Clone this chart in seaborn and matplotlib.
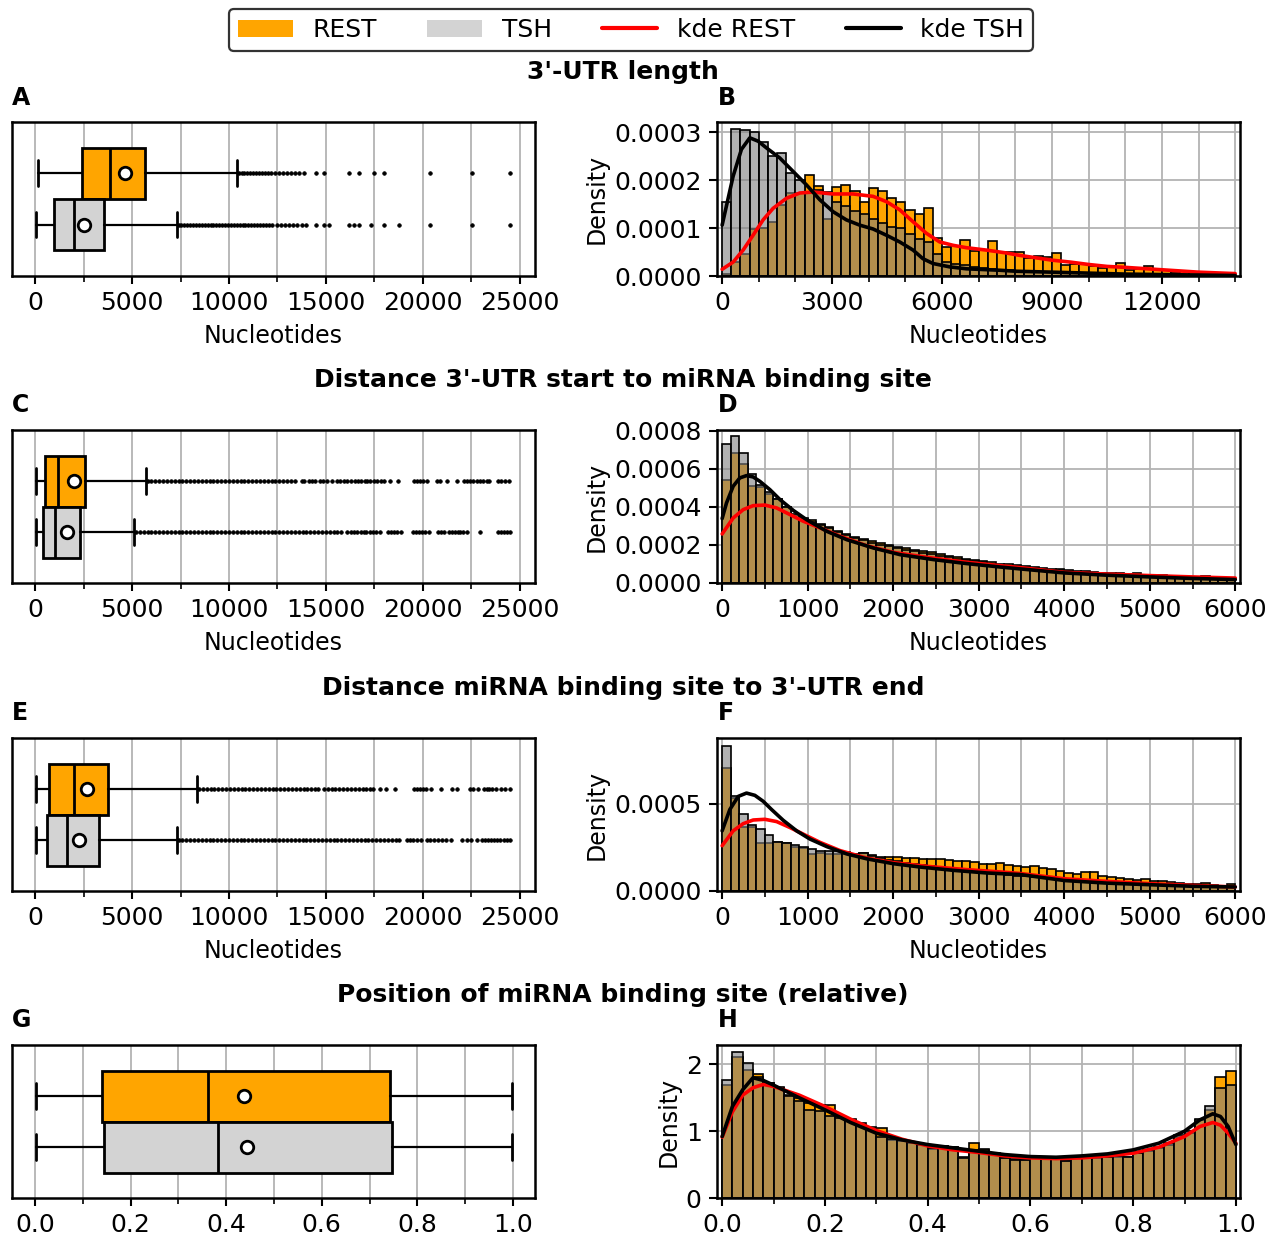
import numpy as np
import pandas as pd
import matplotlib
matplotlib.use("Agg")
import matplotlib.pyplot as plt
import seaborn as sns
from matplotlib.ticker import MultipleLocator, FormatStrFormatter
from matplotlib.patches import Patch
from matplotlib.lines import Line2D

sns.set_style("ticks")
plt.rcParams['font.family'] = ['DejaVu Sans']
plt.rcParams['text.color'] = 'black'
plt.rcParams['axes.labelcolor'] = 'black'
plt.rcParams['xtick.color'] = 'black'
plt.rcParams['ytick.color'] = 'black'

# ---------------- DATA ----------------
GROUPS = ["REST", "TSH"]

# Box statistics: whislo, q1, median, q3, whishi, mean
A_REST_BOX = [150, 2420, 3875, 5660, 10430, 4630]
A_TSH_BOX = [40, 955, 1985, 3525, 7310, 2500]
C_REST_BOX = [20, 480, 1190, 2590, 5710, 2020]
C_TSH_BOX = [20, 400, 1010, 2330, 5100, 1650]
E_REST_BOX = [20, 700, 1985, 3765, 8375, 2680]
E_TSH_BOX = [20, 590, 1655, 3310, 7330, 2260]
G_REST_BOX = [0.002, 0.141, 0.361, 0.742, 0.998, 0.437]
G_TSH_BOX = [0.002, 0.145, 0.383, 0.746, 0.998, 0.443]

A_REST_FLIERS = [10500, 10650, 10800, 10950, 11100, 11250, 11400, 11550, 11700, 11850, 12000, 12150,
                 12400, 12600, 12800, 13000, 13200, 13400, 13600, 13850, 14500, 14900, 16200, 16700,
                 17500, 18000, 20400, 22550, 24500]
A_TSH_FLIERS = [7400, 7550, 7700, 7850, 8000, 8150, 8300, 8450, 8600, 8750, 8900, 9050, 9200, 9350,
                9500, 9650, 9800, 9950, 10100, 10250, 10400, 10550, 10700, 10850, 11000, 11150, 11300,
                11450, 11600, 11750, 11900, 12050, 12200, 12500, 12700, 12900, 13100, 13300, 13500,
                13750, 14000, 14500, 14900, 15150, 16200, 16450, 16700, 17350, 18000, 18800, 20400,
                22550, 24500]
C_REST_FLIERS = [5800, 6000, 6200, 6400, 6600, 6800, 7000, 7200, 7400, 7600, 7800, 8000, 8200, 8400,
                 8600, 8800, 9000, 9200, 9400, 9600, 9800, 10000, 10200, 10400, 10600, 10800, 11000,
                 11200, 11400, 11600, 11800, 12000, 12200, 12400, 12600, 12800, 13000, 13200, 13400,
                 13750, 13900, 14150, 14300, 14450, 14700, 14850, 15050, 15300, 15600, 15750, 15950,
                 16100, 16300, 16500, 16650, 16800, 17000, 17150, 17300, 17500, 17650, 17850, 18000,
                 18300, 18750, 19550, 19700, 19850, 20000, 20250, 20750, 20900, 21250, 21750, 22150,
                 22300, 22450, 22600, 22800, 22950, 23100, 23300, 23400, 23900, 24050, 24250, 24450]
C_TSH_FLIERS = [5200, 5400, 5600, 5800, 6000, 6200, 6400, 6600, 6800, 7000, 7200, 7400, 7600, 7800,
                8000, 8200, 8400, 8600, 8800, 9000, 9200, 9400, 9600, 9800, 10000, 10200, 10400,
                10600, 10800, 11000, 11200, 11400, 11600, 11800, 12000, 12200, 12400, 12600, 12800,
                13000, 13200, 13400, 13600, 13800, 14000, 14200, 14400, 14600, 14800, 15000, 15200,
                15400, 15600, 15800, 16100, 16300, 16450, 16600, 16800, 16950, 17100, 17300, 17450,
                17600, 17800, 18200, 18350, 18500, 18700, 18900, 19500, 19650, 19800, 19950, 20100,
                20350, 20800, 20950, 21100, 21350, 21500, 21650, 21800, 21950, 22100, 22300, 22950,
                23900, 24050, 24200, 24350, 24500]
E_REST_FLIERS = [8450, 8650, 8850, 9050, 9250, 9450, 9650, 9850, 10050, 10250, 10450, 10650, 10850,
                 11050, 11250, 11450, 11650, 11850, 12050, 12250, 12450, 12650, 12850, 13050, 13250,
                 13450, 13650, 13850, 14050, 14250, 14450, 14600, 14900, 15100, 15300, 15500, 15700,
                 15900, 16100, 16300, 16500, 16700, 16900, 17100, 17300, 17450, 17800, 18100, 18550,
                 19550, 19700, 19850, 20000, 20150, 20450, 20950, 21500, 21750, 22450, 22600, 22850,
                 23150, 23300, 23450, 23600, 23800, 24050, 24250, 24500]
E_TSH_FLIERS = [7400, 7600, 7800, 8000, 8200, 8400, 8600, 8800, 9000, 9200, 9400, 9600, 9800, 10000,
                10200, 10400, 10600, 10800, 11000, 11200, 11400, 11600, 11800, 12000, 12200, 12400,
                12600, 12800, 13000, 13200, 13400, 13600, 13800, 14000, 14200, 14400, 14600, 14800,
                15000, 15200, 15400, 15600, 15800, 16000, 16200, 16400, 16600, 16800, 17000, 17200,
                17400, 17600, 17800, 18000, 18200, 18400, 18600, 18800, 19200, 19350, 19500, 19700,
                19900, 20200, 20400, 20600, 20800, 21000, 21200, 21450, 22050, 22300, 22500, 22800,
                23050, 23200, 23350, 23550, 23700, 23850, 24000, 24200, 24350, 24500]
G_REST_FLIERS = []
G_TSH_FLIERS = []

# Histograms (density), bins start at 0
B_BIN = 250
B_REST = [0.05, 0.30, 0.45, 0.98, 1.00, 1.13, 1.48, 1.72, 1.74, 2.10, 1.88, 1.19, 1.85, 1.90, 1.78,
          1.55, 1.84, 1.78, 1.62, 1.55, 1.38, 1.30, 1.42, 0.80, 0.60, 0.62, 0.75, 0.52, 0.55, 0.72,
          0.50, 0.50, 0.50, 0.38, 0.42, 0.40, 0.47, 0.22, 0.26, 0.25, 0.20, 0.16, 0.18, 0.27, 0.12,
          0.15, 0.20, 0.15, 0.12, 0.09, 0.10, 0.08, 0.06, 0.07, 0.05, 0.04]
B_TSH = [1.55, 3.07, 3.05, 3.00, 2.80, 2.50, 2.57, 2.15, 2.00, 1.75, 1.80, 1.75, 1.55, 1.45, 1.35,
         1.30, 1.18, 1.10, 1.03, 1.00, 0.88, 0.78, 0.70, 0.45, 0.30, 0.25, 0.22, 0.18, 0.16, 0.15,
         0.13, 0.12, 0.11, 0.10, 0.09, 0.09, 0.08, 0.07, 0.06, 0.06, 0.05, 0.05, 0.04, 0.04, 0.04,
         0.03, 0.03, 0.03, 0.03, 0.02, 0.02, 0.02, 0.02, 0.02, 0.01, 0.01]
B_SCALE = 1e-4

D_BIN = 100
D_REST = [5.44, 6.84, 6.26, 5.10, 5.05, 4.70, 4.40, 4.00, 3.60, 3.40, 3.30, 3.10, 2.95, 2.75, 2.60,
          2.42, 2.30, 2.20, 2.10, 2.02, 1.92, 1.85, 1.75, 1.68, 1.62, 1.50, 1.42, 1.35, 1.28, 1.22,
          1.18, 1.08, 1.02, 0.98, 0.93, 0.88, 0.84, 0.80, 0.76, 0.73, 0.68, 0.64, 0.61, 0.58, 0.55,
          0.52, 0.50, 0.48, 0.50, 0.44, 0.42, 0.40, 0.38, 0.36, 0.34, 0.33, 0.36, 0.30, 0.28, 0.26]
D_TSH = [7.33, 7.72, 6.86, 5.75, 5.14, 4.80, 4.42, 4.00, 3.65, 3.38, 3.22, 3.05, 2.88, 2.70, 2.50,
         2.38, 2.25, 2.12, 2.02, 1.93, 1.85, 1.75, 1.66, 1.58, 1.50, 1.42, 1.35, 1.28, 1.22, 1.15,
         1.08, 1.02, 0.97, 0.92, 0.88, 0.83, 0.79, 0.75, 0.71, 0.68, 0.64, 0.60, 0.57, 0.54, 0.51,
         0.48, 0.46, 0.43, 0.41, 0.39, 0.37, 0.35, 0.33, 0.31, 0.29, 0.27, 0.25, 0.24, 0.22, 0.21]
D_SCALE = 1e-4

F_BIN = 100
F_REST = [7.01, 5.30, 3.67, 3.67, 2.73, 2.73, 2.78, 2.73, 2.50, 2.45, 2.09, 2.15, 2.10, 2.12, 2.10,
          2.05, 2.20, 2.05, 1.95, 1.92, 1.93, 1.89, 1.87, 1.85, 1.81, 1.83, 1.78, 1.74, 1.70, 1.67,
          1.55, 1.52, 1.60, 1.46, 1.42, 1.36, 1.44, 1.30, 1.27, 1.17, 1.02, 1.00, 1.08, 1.10, 0.83,
          0.80, 0.76, 0.70, 0.64, 0.66, 0.57, 0.55, 0.51, 0.47, 0.42, 0.38, 0.45, 0.36, 0.30, 0.42]
F_TSH = [8.27, 5.41, 4.38, 3.76, 3.53, 3.20, 2.78, 2.73, 2.63, 2.54, 2.40, 2.27, 2.30, 2.27, 2.22,
         2.12, 2.16, 2.00, 1.88, 1.80, 1.70, 1.62, 1.55, 1.48, 1.42, 1.36, 1.30, 1.24, 1.18, 1.12,
         1.06, 1.01, 0.96, 0.91, 0.87, 0.83, 0.79, 0.75, 0.71, 0.68, 0.65, 0.62, 0.59, 0.56, 0.53,
         0.50, 0.48, 0.46, 0.44, 0.42, 0.40, 0.38, 0.36, 0.34, 0.32, 0.31, 0.30, 0.28, 0.27, 0.26]
F_SCALE = 1e-4

H_BIN = 0.02
H_REST = [1.69, 2.11, 1.92, 1.85, 1.72, 1.66, 1.54, 1.50, 1.42, 1.39, 1.39, 1.23, 1.18, 1.12, 1.06,
          1.05, 0.87, 0.86, 0.82, 0.80, 0.73, 0.78, 0.77, 0.62, 0.83, 0.73, 0.67, 0.60, 0.58, 0.57,
          0.61, 0.60, 0.60, 0.56, 0.60, 0.62, 0.60, 0.63, 0.62, 0.62, 0.67, 0.71, 0.75, 0.80, 0.92,
          0.98, 1.17, 1.32, 1.81, 1.90]
H_TSH = [1.77, 2.18, 2.02, 1.81, 1.72, 1.64, 1.52, 1.45, 1.32, 1.30, 1.22, 1.20, 1.16, 1.10, 1.04,
         0.92, 0.88, 0.87, 0.84, 0.81, 0.75, 0.78, 0.76, 0.60, 0.72, 0.72, 0.66, 0.60, 0.57, 0.57,
         0.60, 0.59, 0.60, 0.55, 0.60, 0.63, 0.61, 0.62, 0.63, 0.62, 0.68, 0.72, 0.76, 0.82, 0.94,
         1.00, 1.18, 1.37, 1.65, 1.69]
H_SCALE = 1.0

# KDE curves (x, density)
B_KDE_X_TSH = [0, 300, 527, 755, 982, 1210, 1573, 1936, 2300, 2664, 3027, 3390, 3755, 4118, 4482,
               4845, 5210, 5480, 5755, 6210, 6664, 7573, 8000, 9000, 10000, 11000, 12000, 13000, 14000]
B_KDE_Y_TSH = [1.06, 2.08, 2.64, 2.88, 2.81, 2.67, 2.46, 2.18, 1.90, 1.59, 1.34, 1.17, 1.06, 0.98,
               0.85, 0.71, 0.54, 0.36, 0.26, 0.19, 0.15, 0.12, 0.10, 0.08, 0.06, 0.04, 0.03, 0.02, 0.01]
B_KDE_X_REST = [0, 300, 573, 845, 1118, 1390, 1755, 2118, 2482, 3027, 3573, 4118, 4482, 4845, 5210,
                5573, 5936, 6300, 6664, 7209, 7755, 8118, 9000, 9500, 10000, 10500, 11000, 12000,
                13000, 14000]
B_KDE_Y_REST = [0.14, 0.29, 0.54, 0.85, 1.17, 1.41, 1.62, 1.73, 1.75, 1.71, 1.71, 1.66, 1.55, 1.38,
                1.13, 0.89, 0.71, 0.64, 0.59, 0.54, 0.48, 0.43, 0.33, 0.29, 0.24, 0.20, 0.18, 0.13,
                0.08, 0.05]

D_KDE_X_TSH = [0, 51, 129, 207, 285, 363, 441, 559, 676, 832, 988, 1223, 1457, 1770, 2082, 2473,
               2863, 3254, 3488, 4000, 4500, 5000, 5500, 6000]
D_KDE_Y_TSH = [3.39, 4.21, 5.09, 5.53, 5.65, 5.58, 5.35, 4.91, 4.39, 3.82, 3.33, 2.72, 2.28, 1.84,
               1.49, 1.23, 1.02, 0.84, 0.74, 0.53, 0.41, 0.32, 0.24, 0.18]
D_KDE_X_REST = [0, 129, 246, 363, 500, 637, 793, 949, 1145, 1379, 1691, 2004, 2395, 2863, 3254,
                3488, 4000, 4500, 5000, 5500, 6000]
D_KDE_Y_REST = [2.58, 3.42, 3.86, 4.07, 4.10, 3.95, 3.60, 3.25, 2.90, 2.46, 1.96, 1.61, 1.35, 1.09,
                0.91, 0.81, 0.56, 0.47, 0.39, 0.32, 0.26]

F_KDE_X_TSH = [0, 90, 188, 285, 383, 480, 578, 715, 871, 1027, 1223, 1457, 1691, 2004, 2316, 2707,
               3098, 3488, 4000, 4500, 5000, 5500, 6000]
F_KDE_Y_TSH = [3.44, 4.66, 5.41, 5.60, 5.47, 5.13, 4.66, 4.04, 3.44, 2.97, 2.54, 2.12, 1.84, 1.56,
               1.37, 1.18, 1.03, 0.94, 0.60, 0.45, 0.36, 0.27, 0.23]
F_KDE_X_REST = [0, 129, 246, 363, 500, 637, 793, 949, 1145, 1379, 1691, 2004, 2395, 2863, 3254,
                3488, 4000, 4500, 5000, 5500, 6000]
F_KDE_Y_REST = [2.59, 3.44, 3.85, 4.06, 4.10, 3.97, 3.63, 3.25, 2.78, 2.31, 1.88, 1.62, 1.41, 1.22,
                1.09, 1.00, 0.70, 0.55, 0.42, 0.32, 0.23]

H_KDE_X = [0, 0.02, 0.04, 0.06, 0.08, 0.10, 0.15, 0.20, 0.25, 0.30, 0.35, 0.40, 0.45, 0.50, 0.55,
           0.60, 0.65, 0.70, 0.75, 0.80, 0.85, 0.90, 0.93, 0.955, 0.97, 0.985, 1.0]
H_KDE_Y_TSH = [0.92, 1.37, 1.62, 1.80, 1.76, 1.69, 1.50, 1.32, 1.13, 0.97, 0.87, 0.80, 0.75, 0.70,
               0.65, 0.62, 0.61, 0.63, 0.66, 0.72, 0.82, 1.00, 1.17, 1.26, 1.22, 1.07, 0.80]
H_KDE_Y_REST = [0.91, 1.29, 1.54, 1.65, 1.70, 1.67, 1.54, 1.37, 1.18, 1.01, 0.88, 0.78, 0.72, 0.68,
                0.63, 0.60, 0.59, 0.60, 0.63, 0.67, 0.76, 0.92, 1.07, 1.13, 1.09, 0.97, 0.82]

ROW_TITLES = ["3'-UTR length", "Distance 3'-UTR start to miRNA binding site",
              "Distance miRNA binding site to 3'-UTR end", "Position of miRNA binding site (relative)"]
PANEL_LETTERS = ["A", "B", "C", "D", "E", "F", "G", "H"]

# ---------------- STYLE ----------------
REST_C = "orange"
TSH_BOX_C = "lightgray"
TSH_HIST_C = "grey"
GRID_C = "#b3b3b3"
TICK_FS = 18
LABEL_FS = 17

W, H = 1276, 1239
fig = plt.figure(figsize=(W / 100, H / 100), dpi=100)


def rect(l, t, r, b):
    return [l / W, 1 - b / H, (r - l) / W, (b - t) / H]


def style_axes(ax):
    for s in ax.spines.values():
        s.set_linewidth(1.8)
        s.set_color("black")
    ax.tick_params(axis="both", which="major", labelsize=TICK_FS, length=6, width=1.5, pad=5,
                   direction="out", color="black", labelcolor="black", bottom=True, left=True)
    ax.tick_params(axis="both", which="minor", length=4, width=1.2, bottom=True)
    ax.set_axisbelow(True)


def box_panel(ax, rest_box, tsh_box, rest_fl, tsh_fl, xlim, major, minor, fmt, xlabel):
    stats = []
    for b, fl in ((rest_box, rest_fl), (tsh_box, tsh_fl)):
        stats.append(dict(whislo=b[0], q1=b[1], med=b[2], q3=b[3], whishi=b[4], mean=b[5],
                          fliers=np.asarray(fl, dtype=float)))
    kw = dict(positions=[0, 1], widths=1.0, patch_artist=True, showmeans=True, showfliers=True,
              boxprops=dict(linewidth=2.0, edgecolor="black"),
              medianprops=dict(color="black", linewidth=2.0),
              whiskerprops=dict(color="black", linewidth=1.6),
              capprops=dict(color="black", linewidth=2.0),
              meanprops=dict(marker="o", markerfacecolor="white", markeredgecolor="black",
                             markersize=9, markeredgewidth=2.0),
              flierprops=dict(marker="o", markersize=2.6, markerfacecolor="black",
                              markeredgecolor="black", markeredgewidth=0.5))
    try:
        bp = ax.bxp(stats, orientation="horizontal", **kw)
    except TypeError:
        bp = ax.bxp(stats, vert=False, **kw)
    for patch, c in zip(bp["boxes"], [REST_C, TSH_BOX_C]):
        patch.set_facecolor(c)
    ax.set_ylim(2, -1)
    ax.set_yticks([])
    ax.set_xlim(*xlim)
    ax.xaxis.set_major_locator(MultipleLocator(major))
    ax.xaxis.set_minor_locator(MultipleLocator(minor))
    if fmt:
        ax.xaxis.set_major_formatter(FormatStrFormatter(fmt))
    ax.grid(True, axis="x", which="both", color=GRID_C, linewidth=1.3)
    ax.grid(False, axis="y")
    if xlabel:
        ax.set_xlabel(xlabel, fontsize=LABEL_FS, labelpad=6)
    style_axes(ax)


def hist_panel(ax, binw, rest, tsh, scale, kx_r, ky_r, kx_t, ky_t, xlim, ylim,
               xmaj, xmin, xfmt, ymaj, yfmt, xlabel):
    edges = [i * binw for i in range(len(rest) + 1)]
    centers = [(edges[i] + edges[i + 1]) / 2 for i in range(len(rest))]
    df = pd.DataFrame({"x": centers,
                       "rest": np.asarray(rest, dtype=float) * scale,
                       "tsh": np.asarray(tsh, dtype=float) * scale})
    sns.histplot(data=df, x="x", weights="rest", bins=edges, ax=ax, color=REST_C, alpha=1.0,
                 edgecolor="black", linewidth=1.2)
    sns.histplot(data=df, x="x", weights="tsh", bins=edges, ax=ax, color=TSH_HIST_C, alpha=0.6,
                 edgecolor="black", linewidth=1.2)
    kr = pd.DataFrame({"x": kx_r, "y": np.asarray(ky_r, dtype=float) * scale})
    kt = pd.DataFrame({"x": kx_t, "y": np.asarray(ky_t, dtype=float) * scale})
    sns.lineplot(data=kr, x="x", y="y", ax=ax, color="red", linewidth=2.6)
    sns.lineplot(data=kt, x="x", y="y", ax=ax, color="black", linewidth=2.6)
    ax.set_xlim(*xlim)
    ax.set_ylim(*ylim)
    ax.xaxis.set_major_locator(MultipleLocator(xmaj))
    ax.xaxis.set_minor_locator(MultipleLocator(xmin))
    if xfmt:
        ax.xaxis.set_major_formatter(FormatStrFormatter(xfmt))
    ax.yaxis.set_major_locator(MultipleLocator(ymaj))
    ax.yaxis.set_major_formatter(FormatStrFormatter(yfmt))
    ax.grid(True, axis="x", which="both", color=GRID_C, linewidth=1.3)
    ax.grid(True, axis="y", which="major", color=GRID_C, linewidth=1.3)
    ax.set_ylabel("Density", fontsize=LABEL_FS)
    ax.set_xlabel(xlabel if xlabel else "", fontsize=LABEL_FS, labelpad=6)
    style_axes(ax)


rows = [(122, 276), (430, 583), (738, 891), (1045, 1198)]
L_BOX = (12, 535)
L_HIST = (717, 1240)
axes_box = [fig.add_axes(rect(L_BOX[0], t, L_BOX[1], b)) for t, b in rows]
axes_hist = [fig.add_axes(rect(L_HIST[0], t, L_HIST[1], b)) for t, b in rows]

NT = "Nucleotides"
box_panel(axes_box[0], A_REST_BOX, A_TSH_BOX, A_REST_FLIERS, A_TSH_FLIERS, (-1200, 25800), 5000, 2500, None, NT)
box_panel(axes_box[1], C_REST_BOX, C_TSH_BOX, C_REST_FLIERS, C_TSH_FLIERS, (-1200, 25800), 5000, 2500, None, NT)
box_panel(axes_box[2], E_REST_BOX, E_TSH_BOX, E_REST_FLIERS, E_TSH_FLIERS, (-1200, 25800), 5000, 2500, None, NT)
box_panel(axes_box[3], G_REST_BOX, G_TSH_BOX, G_REST_FLIERS, G_TSH_FLIERS, (-0.048, 1.046), 0.2, 0.1, "%.1f", None)

hist_panel(axes_hist[0], B_BIN, B_REST, B_TSH, B_SCALE, B_KDE_X_REST, B_KDE_Y_REST, B_KDE_X_TSH, B_KDE_Y_TSH,
           (-140, 14130), (0, 0.000321), 3000, 1000, None, 0.0001, "%.4f", NT)
hist_panel(axes_hist[1], D_BIN, D_REST, D_TSH, D_SCALE, D_KDE_X_REST, D_KDE_Y_REST, D_KDE_X_TSH, D_KDE_Y_TSH,
           (-60, 6055), (0, 0.000805), 1000, 500, None, 0.0002, "%.4f", NT)
hist_panel(axes_hist[2], F_BIN, F_REST, F_TSH, F_SCALE, F_KDE_X_REST, F_KDE_Y_REST, F_KDE_X_TSH, F_KDE_Y_TSH,
           (-60, 6055), (0, 0.000875), 1000, 500, None, 0.0005, "%.4f", NT)
hist_panel(axes_hist[3], H_BIN, H_REST, H_TSH, H_SCALE, H_KDE_X, H_KDE_Y_REST, H_KDE_X, H_KDE_Y_TSH,
           (-0.01, 1.008), (0, 2.29), 0.2, 0.1, "%.1f", 1, "%d", None)

# Row titles and panel letters
title_y = [72, 380, 688, 995]
letter_y = [98, 405, 713, 1020]
for i, (ty, ly) in enumerate(zip(title_y, letter_y)):
    fig.text(623 / W, 1 - ty / H, ROW_TITLES[i], ha="center", va="center", fontsize=18, fontweight="bold")
    fig.text(12 / W, 1 - ly / H, PANEL_LETTERS[2 * i], ha="left", va="center", fontsize=17, fontweight="bold")
    fig.text(718 / W, 1 - ly / H, PANEL_LETTERS[2 * i + 1], ha="left", va="center", fontsize=17, fontweight="bold")

# Legend
handles = [Patch(facecolor=REST_C, edgecolor="none"), Patch(facecolor=TSH_BOX_C, edgecolor="none"),
           Line2D([], [], color="red", linewidth=3), Line2D([], [], color="black", linewidth=3)]
labels = [GROUPS[0], GROUPS[1], "kde " + GROUPS[0], "kde " + GROUPS[1]]
leg = fig.legend(handles, labels, loc="center", bbox_to_anchor=(631 / W, 1 - 30 / H), ncol=4,
                 fontsize=18, frameon=True, fancybox=True, handlelength=2.2, columnspacing=2.0,
                 handletextpad=0.8, borderpad=0.35)
leg.get_frame().set_edgecolor("black")
leg.get_frame().set_linewidth(1.6)

fig.savefig("out.png", dpi=100)
